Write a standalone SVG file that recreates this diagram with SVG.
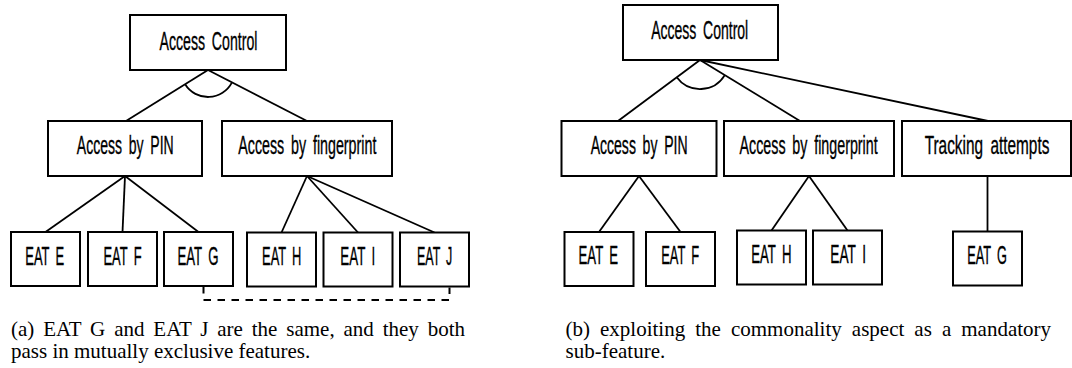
<svg xmlns="http://www.w3.org/2000/svg" width="1072" height="368" viewBox="0 0 1072 368">
  <style>
    .box { fill: #ffffff; stroke: #000000; stroke-width: 2; }
    .lbl { font-family: "Liberation Sans", Arial, sans-serif; font-size: 25px; word-spacing: 5px; fill: #000000; stroke: #000000; stroke-width: 0.35; text-anchor: middle; }
    .edge { fill: none; stroke: #000000; stroke-width: 1.8; }
    .dash { fill: none; stroke: #000000; stroke-width: 2; stroke-dasharray: 7.5 6.5; }
    .cap { font-family: "Liberation Serif", "Times New Roman", serif; font-size: 21px; fill: #000000; }
  </style>

  <!-- connectors of both feature trees -->
  <g id="connectors">
    <!-- (a) -->
    <line class="edge" x1="208" y1="70" x2="126" y2="121"/>
    <line class="edge" x1="208" y1="70" x2="307" y2="121"/>
    <path class="edge" d="M185.1,84.25 A27,27 0 0 0 232,82.4"/>
    <line class="edge" x1="125" y1="176" x2="45.5" y2="232"/>
    <line class="edge" x1="125" y1="176" x2="122.5" y2="232"/>
    <line class="edge" x1="125" y1="176" x2="198.5" y2="232"/>
    <line class="edge" x1="307" y1="176" x2="281.5" y2="232.5"/>
    <line class="edge" x1="307" y1="176" x2="358" y2="232.5"/>
    <line class="edge" x1="307" y1="176" x2="434.5" y2="232.5"/>
    <path class="dash" d="M203.5,286 V300 H449.5 V287.5"/>
    <!-- (b) -->
    <line class="edge" x1="700" y1="60" x2="618" y2="121"/>
    <line class="edge" x1="700" y1="60" x2="800" y2="121"/>
    <line class="edge" x1="700" y1="60" x2="988" y2="121"/>
    <path class="edge" d="M676.7,77.3 A29,29 0 0 0 724.8,75.1"/>
    <line class="edge" x1="639" y1="176" x2="599" y2="232"/>
    <line class="edge" x1="639" y1="176" x2="680.5" y2="232"/>
    <line class="edge" x1="809" y1="176" x2="771.5" y2="230.5"/>
    <line class="edge" x1="809" y1="176" x2="847.5" y2="230.5"/>
    <line class="edge" x1="987.5" y1="176" x2="987.5" y2="231.5"/>
  </g>

  <!-- (a) EAT G and EAT J in mutually exclusive features -->
  <g id="a-access-control"><rect class="box" x="130" y="15" width="156" height="55"/><text class="lbl" transform="translate(208.5,50) scale(0.566,1)">Access Control</text></g>
  <g id="a-access-pin"><rect class="box" x="48" y="121" width="154" height="55"/><text class="lbl" transform="translate(125.3,154) scale(0.562,1)">Access by PIN</text></g>
  <g id="a-access-fingerprint"><rect class="box" x="222" y="121" width="170" height="55"/><text class="lbl" transform="translate(307.3,154) scale(0.571,1)">Access by fingerprint</text></g>
  <g id="a-eat-e"><rect class="box" x="11" y="232" width="69" height="54"/><text class="lbl" transform="translate(44.7,264.5) scale(0.519,1)">EAT E</text></g>
  <g id="a-eat-f"><rect class="box" x="88" y="232" width="69" height="54"/><text class="lbl" transform="translate(122.5,264.5) scale(0.518,1)">EAT F</text></g>
  <g id="a-eat-g"><rect class="box" x="164" y="232" width="69" height="54"/><text class="lbl" transform="translate(198,264.5) scale(0.529,1)">EAT G</text></g>
  <g id="a-eat-h"><rect class="box" x="247" y="232.5" width="69" height="54"/><text class="lbl" transform="translate(281.7,265) scale(0.515,1)">EAT H</text></g>
  <g id="a-eat-i"><rect class="box" x="323.5" y="232.5" width="69" height="54"/><text class="lbl" transform="translate(357.8,265) scale(0.535,1)">EAT I</text></g>
  <g id="a-eat-j"><rect class="box" x="400" y="232.5" width="69" height="54"/><text class="lbl" transform="translate(434.7,265) scale(0.499,1)">EAT J</text></g>

  <!-- (b) commonality as a mandatory sub-feature -->
  <g id="b-access-control"><rect class="box" x="623" y="5" width="155" height="55"/><text class="lbl" transform="translate(699.7,39) scale(0.561,1)">Access Control</text></g>
  <g id="b-access-pin"><rect class="box" x="561.5" y="121" width="155" height="55"/><text class="lbl" transform="translate(639.1,154) scale(0.562,1)">Access by PIN</text></g>
  <g id="b-access-fingerprint"><rect class="box" x="724" y="121" width="170" height="55"/><text class="lbl" transform="translate(808.6,154) scale(0.571,1)">Access by fingerprint</text></g>
  <g id="b-tracking-attempts"><rect class="box" x="902" y="121" width="169" height="55"/><text class="lbl" transform="translate(987,154) scale(0.615,1)">Tracking attempts</text></g>
  <g id="b-eat-e"><rect class="box" x="564.5" y="232" width="69" height="54"/><text class="lbl" transform="translate(598.3,264) scale(0.528,1)">EAT E</text></g>
  <g id="b-eat-f"><rect class="box" x="646" y="232" width="69" height="54"/><text class="lbl" transform="translate(680.2,264) scale(0.518,1)">EAT F</text></g>
  <g id="b-eat-h"><rect class="box" x="737" y="230.5" width="69" height="54"/><text class="lbl" transform="translate(771.3,262.5) scale(0.528,1)">EAT H</text></g>
  <g id="b-eat-i"><rect class="box" x="813" y="230.5" width="69" height="54"/><text class="lbl" transform="translate(848.2,262.5) scale(0.548,1)">EAT I</text></g>
  <g id="b-eat-g"><rect class="box" x="953" y="231.5" width="69" height="54"/><text class="lbl" transform="translate(987,263.5) scale(0.511,1)">EAT G</text></g>

  <!-- sub-figure captions, first lines justified to the column width -->
  <g id="captions">
    <text class="cap" x="11" y="336" word-spacing="3.6">(a) EAT G and EAT J are the same, and they both</text>
    <text class="cap" x="11" y="358">pass in mutually exclusive features.</text>
    <text class="cap" x="565.5" y="336" word-spacing="4.8">(b) exploiting the commonality aspect as a mandatory</text>
    <text class="cap" x="565.5" y="358">sub-feature.</text>
  </g>
</svg>
